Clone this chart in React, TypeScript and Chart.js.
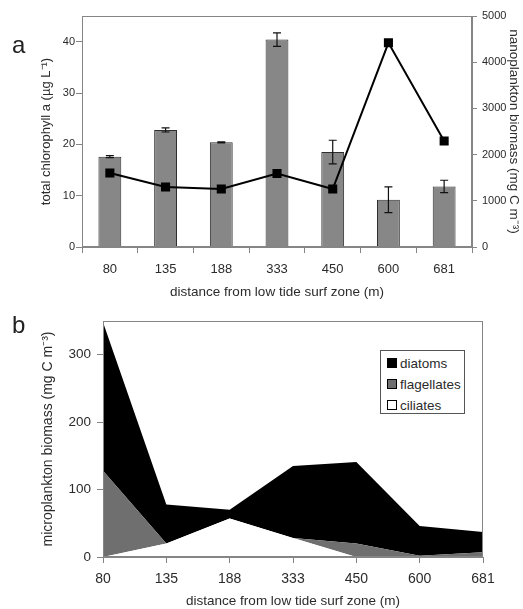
import React, { useEffect, useRef } from 'react';
import { Chart, registerables } from 'chart.js';

Chart.register(...registerables);

// ---------- data ----------
const distances = ['80', '135', '188', '333', '450', '600', '681'];

// panel a
const chlorophyll = [17.6, 22.8, 20.4, 40.4, 18.5, 9.2, 11.8];
const chlorophyllErr = [0.2, 0.4, 0.1, 1.3, 2.3, 2.5, 1.2];
const nanoplankton = [1600, 1300, 1255, 1590, 1255, 4420, 2295];

// panel b (stacked, bottom to top)
const ciliates = [0, 20, 57, 28, 0, 0, 0];
const flagellates = [128, 0, 0, 0, 20, 2, 7];
const diatoms = [220, 58, 13, 107, 121, 44, 30];

const legendNames = ['diatoms', 'flagellates', 'ciliates'];
const legendColors = ['#000000', '#6f6f6f', '#ffffff'];

const FONT = '"Liberation Sans", Arial, sans-serif';
const TEXT = '#2b2b2b';
const AXIS = '#858585';

const plainTick = (v: any) => String(v);

const framePlugin = {
  id: 'frame',
  afterDraw(chart: any) {
    const { ctx, chartArea: a } = chart;
    ctx.save();
    ctx.strokeStyle = AXIS;
    ctx.lineWidth = 1;
    ctx.strokeRect(Math.round(a.left) + 0.5, Math.round(a.top) + 0.5, Math.round(a.right - a.left) - 1, Math.round(a.bottom - a.top) - 1);
    ctx.restore();
  },
};

const errorBarPlugin = {
  id: 'errorBars',
  afterDatasetDraw(chart: any, args: any) {
    if (args.index !== 0) return;
    const { ctx } = chart;
    const yScale = chart.scales.y;
    ctx.save();
    ctx.strokeStyle = '#111';
    ctx.lineWidth = 1.2;
    args.meta.data.forEach((el: any, i: number) => {
      const v = chlorophyll[i];
      const e = chlorophyllErr[i];
      const yt = yScale.getPixelForValue(v + e);
      const yb = yScale.getPixelForValue(v - e);
      const x = el.x;
      ctx.beginPath();
      ctx.moveTo(x, yt);
      ctx.lineTo(x, yb);
      ctx.moveTo(x - 4, yt);
      ctx.lineTo(x + 4, yt);
      ctx.moveTo(x - 4, yb);
      ctx.lineTo(x + 4, yb);
      ctx.stroke();
    });
    ctx.restore();
  },
};

export default function App() {
  const refA = useRef<HTMLCanvasElement>(null);
  const refB = useRef<HTMLCanvasElement>(null);

  useEffect(() => {
    Chart.defaults.font.family = FONT;
    Chart.defaults.color = TEXT;

    const chartA = new Chart(refA.current as HTMLCanvasElement, {
      type: 'bar',
      data: {
        labels: distances,
        datasets: [
          {
            type: 'bar',
            label: 'total chlorophyll a',
            data: chlorophyll,
            yAxisID: 'y',
            backgroundColor: '#878787',
            borderColor: '#2e2e2e',
            borderWidth: 1,
            barPercentage: 0.41,
            categoryPercentage: 1,
            order: 1,
          } as any,
          {
            type: 'line',
            label: 'nanoplankton biomass',
            data: nanoplankton,
            yAxisID: 'y1',
            borderColor: '#000',
            borderWidth: 2,
            pointStyle: 'rect',
            pointRadius: 5,
            pointBackgroundColor: '#000',
            pointBorderColor: '#000',
            tension: 0,
            order: 0,
          } as any,
        ],
      },
      options: {
        responsive: false,
        animation: false,
        layout: { padding: { top: 16, left: 0, right: 0, bottom: 0 } },
        plugins: { legend: { display: false }, tooltip: { enabled: false } },
        scales: {
          x: {
            offset: true,
            grid: { offset: true, drawOnChartArea: false, drawTicks: true, tickLength: 6, color: AXIS },
            border: { color: AXIS },
            ticks: { font: { size: 13 }, color: TEXT, padding: 9, maxRotation: 0 },
            title: {
              display: true,
              text: 'distance from low tide surf zone (m)',
              font: { size: 13.5 },
              color: TEXT,
              padding: { top: 1, bottom: 0 },
            },
            afterFit: (s: any) => { s.height = 53; },
          },
          y: {
            position: 'left',
            min: 0,
            max: 45,
            grid: { drawOnChartArea: false, drawTicks: true, tickLength: 6, color: AXIS },
            border: { color: AXIS },
            ticks: { stepSize: 10, includeBounds: false, font: { size: 11 }, color: TEXT, padding: 1, callback: plainTick },
            title: {
              display: true,
              text: 'total chlorophyll a (µg L⁻¹)',
              font: { size: 13 },
              color: TEXT,
              padding: { top: 39, bottom: 0 },
            },
            afterFit: (s: any) => { s.width = 82; },
          },
          y1: {
            position: 'right',
            min: 0,
            max: 5000,
            grid: { drawOnChartArea: false, drawTicks: true, tickLength: 5, color: AXIS },
            border: { color: AXIS },
            ticks: { stepSize: 1000, includeBounds: false, font: { size: 11 }, color: TEXT, padding: 5, callback: plainTick },
            title: {
              display: true,
              text: 'nanoplankton biomass (mg C m⁻³)',
              font: { size: 13.5 },
              color: TEXT,
              padding: { top: 1, bottom: 0 },
            },
            afterFit: (s: any) => { s.width = 51; },
          },
        },
      } as any,
      plugins: [errorBarPlugin, framePlugin],
    });

    const chartB = new Chart(refB.current as HTMLCanvasElement, {
      type: 'line',
      data: {
        labels: distances,
        datasets: [
          {
            label: 'ciliates',
            data: ciliates,
            fill: 'origin',
            backgroundColor: '#ffffff',
            borderColor: '#ffffff',
            borderWidth: 0,
            pointRadius: 0,
            tension: 0,
          },
          {
            label: 'flagellates',
            data: flagellates,
            fill: '-1',
            backgroundColor: '#6f6f6f',
            borderColor: '#6f6f6f',
            borderWidth: 0,
            pointRadius: 0,
            tension: 0,
          },
          {
            label: 'diatoms',
            data: diatoms,
            fill: '-1',
            backgroundColor: '#000000',
            borderColor: '#000000',
            borderWidth: 0,
            pointRadius: 0,
            tension: 0,
          },
        ],
      },
      options: {
        responsive: false,
        animation: false,
        layout: { padding: { top: 21, left: 0, right: 40, bottom: 0 } },
        plugins: { legend: { display: false }, tooltip: { enabled: false }, filler: { propagate: false } },
        scales: {
          x: {
            offset: false,
            grid: { offset: false, drawOnChartArea: false, drawTicks: true, tickLength: 6, color: AXIS },
            border: { color: AXIS },
            ticks: { font: { size: 14 }, color: TEXT, padding: 8, maxRotation: 0 },
            title: {
              display: true,
              text: 'distance from low tide surf zone (m)',
              font: { size: 13.5 },
              color: TEXT,
              padding: { top: 1, bottom: 0 },
            },
            afterFit: (s: any) => { s.height = 52; },
          },
          y: {
            stacked: true,
            min: 0,
            max: 350,
            grid: { drawOnChartArea: false, drawTicks: true, tickLength: 6, color: AXIS },
            border: { color: AXIS },
            ticks: { stepSize: 100, includeBounds: false, font: { size: 13.5 }, color: TEXT, padding: 6, callback: plainTick },
            title: {
              display: true,
              text: 'microplankton biomass (mg C m⁻³)',
              font: { size: 14 },
              color: TEXT,
              padding: { top: 40, bottom: 0 },
            },
            afterFit: (s: any) => { s.width = 103; },
          },
        },
      } as any,
      plugins: [framePlugin],
    });

    return () => {
      chartA.destroy();
      chartB.destroy();
    };
  }, []);

  const panelLabel: React.CSSProperties = {
    position: 'absolute',
    left: 12,
    fontFamily: FONT,
    fontSize: 24,
    lineHeight: '24px',
    color: '#222',
  };

  return (
    <div style={{ position: 'absolute', left: 0, top: 0, width: 523, height: 609, background: '#fff', overflow: 'hidden' }}>
      <canvas ref={refA} width={523} height={300} style={{ position: 'absolute', left: 0, top: 0 }} />
      <canvas ref={refB} width={523} height={309} style={{ position: 'absolute', left: 0, top: 300 }} />
      <div style={{ ...panelLabel, top: 33 }}>a</div>
      <div style={{ ...panelLabel, top: 313 }}>b</div>
      <div
        style={{
          position: 'absolute',
          left: 380,
          top: 350,
          width: 85,
          height: 64,
          border: '1px solid #555',
          background: '#fff',
          fontFamily: FONT,
          fontSize: 13.5,
          color: TEXT,
          boxSizing: 'border-box',
        }}
      >
        {legendNames.map((name, i) => (
          <div
            key={name}
            style={{ position: 'absolute', left: 6, top: 3 + i * 21, height: 18, display: 'flex', alignItems: 'center', whiteSpace: 'nowrap' }}
          >
            <span
              style={{
                display: 'inline-block',
                width: 8,
                height: 8,
                background: legendColors[i],
                border: '1px solid #000',
                marginRight: 3,
              }}
            />
            <span>{name}</span>
          </div>
        ))}
      </div>
    </div>
  );
}
